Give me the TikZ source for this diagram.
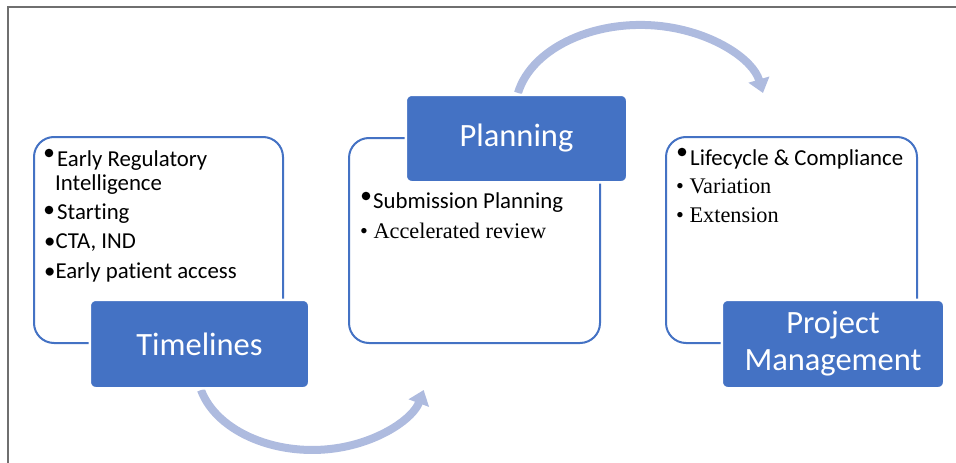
\documentclass[tikz,border=0pt]{standalone}
\usepackage{fontspec}
\setmainfont{Carlito}[Ligatures=NoCommon]
\newfontfamily\serifface{Liberation Serif}
\usetikzlibrary{arrows.meta}
\definecolor{accent}{HTML}{4472C4}
\definecolor{flow}{HTML}{AEBBDF}
\definecolor{framegray}{HTML}{6F6F6F}

\begin{document}
\begin{tikzpicture}[x=1pt,y=-1pt,
  panel/.style={draw=accent, line width=2pt, rounded corners=20pt, fill=white,
    inner sep=0pt},
  tag/.style={fill=accent, draw=white, line width=2.5pt, rounded corners=6pt,
    text=white, inner sep=0pt, align=center,
    font=\fontsize{32.5}{37}\selectfont},
  item/.style={anchor=base west, inner sep=0pt, font=\fontsize{22.8}{24}\selectfont},
  seritem/.style={item, font=\serifface\fontsize{22.3}{24}\selectfont},
  flowarrow/.style={draw=flow, line width=8pt,
    -{Triangle[width=21pt,length=14pt]}},
  bigbullet/.style={fill=black}
]
\useasboundingbox (0,0) rectangle (956,463);

% outer frame (top and left edges only)
\coordinate (frameBL) at (8,463);
\coordinate (frameTL) at (8,7);
\coordinate (frameTR) at (956,7);
\draw[framegray, line width=2pt] (frameBL) -- (frameTL) -- (frameTR);

% flow arrows
\coordinate (topStart) at (518,93);
\draw[flowarrow] (topStart) arc[start angle=191.5, end angle=348.5,
  x radius=125, y radius=85];
\coordinate (botStart) at (201,390);
\draw[flowarrow] (botStart) arc[start angle=165.5, end angle=14.5,
  x radius=115, y radius=80];

% content panels
\node[panel, minimum width=249pt, minimum height=206pt] (p1) at (158.5,240) {};
\node[panel, minimum width=251pt, minimum height=205pt] (p2) at (474.5,240.5) {};
\node[panel, minimum width=251pt, minimum height=206pt] (p3) at (791.5,240) {};

% heading tags
\node[tag, minimum width=219.5pt, minimum height=88.5pt] (t1) at (199.5,344) {Timelines};
\node[tag, minimum width=221.5pt, minimum height=87.5pt] (t2) at (516.5,138.5) {Planning};
\node[tag, minimum width=222.5pt, minimum height=88.5pt] (t3) at (833,344) {Project\\Management};

% panel 1 items
\fill[bigbullet] (49,153) circle (4.3);
\node[item] (a1) at (57,166) {Early Regulatory};
\node[item] (a2) at (55,190) {Intelligence};
\fill[bigbullet] (49,210) circle (4.3);
\node[item] (a3) at (57,219) {Starting};
\node[item] (a4) at (44,248) {•CTA, IND};
\node[item] (a5) at (44,278) {•Early patient access};

% panel 2 items
\fill[bigbullet] (366,196) circle (4.3);
\node[item] (b1) at (373,208) {Submission Planning};
\node[seritem] (b2) at (360,238) {• Accelerated review};

% panel 3 items
\fill[bigbullet] (682,152) circle (4.3);
\node[item] (c1) at (690,165) {Lifecycle \& Compliance};
\node[seritem] (c2) at (676,193) {• Variation};
\node[seritem] (c3) at (676,222) {• Extension};
\end{tikzpicture}
\end{document}
